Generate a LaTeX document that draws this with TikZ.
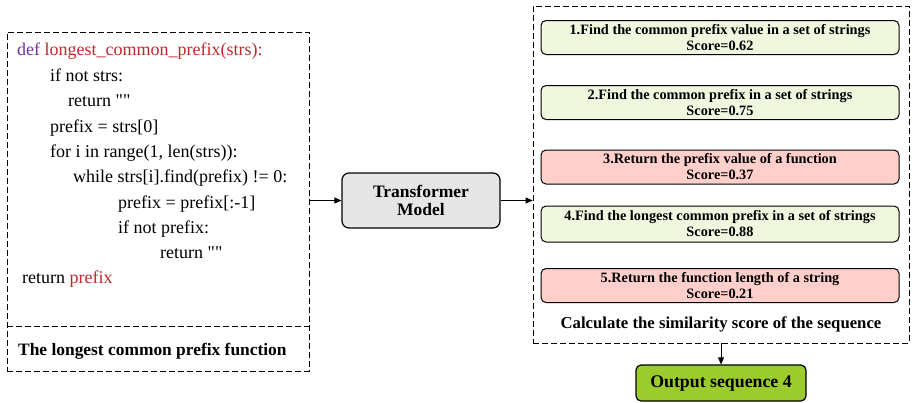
\documentclass[tikz,border=0pt]{standalone}
\usepackage{fontspec}
\setmainfont{Liberation Serif}[Ligatures=TeXOff]
\usetikzlibrary{arrows.meta, positioning, calc}
\definecolor{keyword}{HTML}{7030A0}
\definecolor{fname}{HTML}{C0272D}
\definecolor{goodfill}{HTML}{EFF7DE}
\definecolor{badfill}{HTML}{FFCFCB}
\definecolor{outfill}{HTML}{9CCB2E}
\definecolor{modelfill}{HTML}{E6E6E6}

\begin{document}
\begin{tikzpicture}[x=1pt, y=-1pt, >={Triangle[length=7pt, width=6pt]},
        frame/.style={draw, dash pattern=on 6pt off 3pt, line width=0.8pt, inner sep=0pt},
        codeline/.style={anchor=base west, inner sep=0pt, font=\fontsize{18}{20}\selectfont},
        scorebox/.style={draw, rounded corners=5pt, line width=1pt, minimum width=358pt,
            minimum height=34pt, align=center, inner sep=0pt,
            font=\fontsize{14.3}{16}\selectfont\bfseries},
        good/.style={scorebox, fill=goodfill},
        bad/.style={scorebox, fill=badfill}]
        \useasboundingbox (0,0) rectangle (912,402);

        % left: the code
        \node[frame, minimum width=302pt, minimum height=339pt] (codebox) at (158,201.5) {};
        \draw[dash pattern=on 6pt off 3pt, line width=0.8pt] (codebox.west |- 0,326) -- (codebox.east |- 0,326);
        \node[codeline] (c1) at (17,55) {\textcolor{keyword}{def} \textcolor{fname}{longest\_common\_prefix(strs):}};
        \node[codeline] (c2) at (50,81) {if not strs:};
        \node[codeline] (c3) at (68,106) {return ""};
        \node[codeline] (c4) at (50,132) {prefix = strs[0]};
        \node[codeline] (c5) at (50,157) {for i in range(1, len(strs)):};
        \node[codeline] (c6) at (73,182) {while strs[i].find(prefix) != 0:};
        \node[codeline] (c7) at (118,208) {prefix = prefix[:-1]};
        \node[codeline] (c8) at (118,233) {if not prefix:};
        \node[codeline] (c9) at (160,258) {return ""};
        \node[codeline] (c10) at (22,283) {return \textcolor{fname}{prefix}};
        \node[codeline, font=\fontsize{17.4}{19}\selectfont\bfseries] (caption) at (18,355) {The longest common prefix function};

        % middle: the model
        \node[draw, fill=modelfill, rounded corners=7pt, line width=1.2pt, minimum width=158pt,
            minimum height=55pt, align=center, font=\fontsize{17.5}{18}\selectfont\bfseries] (model) at (421,200.5) {Transformer\\Model};

        % right: the scored sequences
        \node[frame, minimum width=376pt, minimum height=337pt] (simbox) at (721,174.5) {};
        \node[good] (s1) at (720,37.5) {1.Find the common prefix value in a set of strings\\Score=0.62};
        \node[good] (s2) at (720,102.5) {2.Find the common prefix in a set of strings\\Score=0.75};
        \node[bad] (s3) at (720,167) {3.Return the prefix value of a function\\Score=0.37};
        \node[good, minimum height=36pt] (s4) at (720,224) {4.Find the longest common prefix in a set of strings\\Score=0.88};
        \node[bad] (s5) at (720,285.5) {5.Return the function length of a string\\Score=0.21};
        \node[anchor=base, inner sep=0pt, font=\fontsize{16.7}{18}\selectfont\bfseries] (calc) at (721,328) {Calculate the similarity score of the sequence};

        \node[draw, fill=outfill, rounded corners=5pt, line width=1.2pt, minimum width=170pt,
            minimum height=36pt, font=\fontsize{17.8}{18}\selectfont\bfseries] (out) at (721,383) {Output sequence 4};

        \draw[->, line width=0.8pt] (model.west -| codebox.east) -- (model.west);
        \draw[->, line width=0.8pt] (model.east) -- (model.east -| simbox.west);
        \draw[->, line width=0.8pt] (simbox.south) -- (out.north);
    \end{tikzpicture}
\end{document}
